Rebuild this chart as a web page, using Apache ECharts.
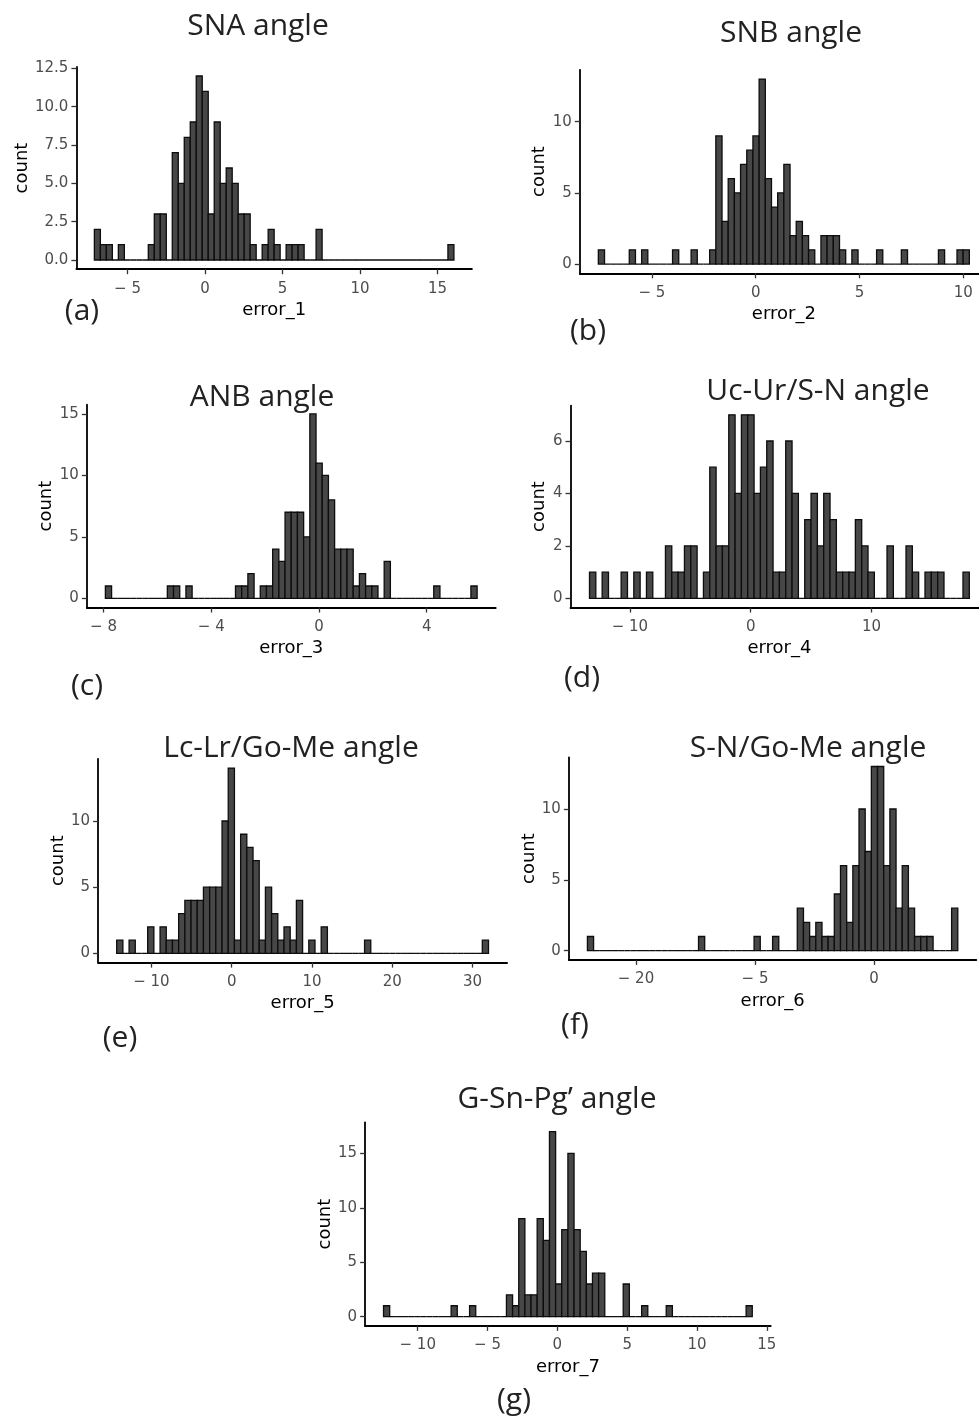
<!DOCTYPE html>
<html><head><meta charset="utf-8">
<script src="https://cdn.jsdelivr.net/npm/echarts@6/dist/echarts.min.js"></script>
<style>html,body{margin:0;padding:0;background:#fff}#c{width:979px;height:1417px}</style>
</head><body><div id="c"></div>
<script>
// ---------------- data ----------------
// each histogram: 60 equal bins, first bin starts at start*, bin width width*
const startA = -7.14, widthA = 0.3867;
const countsA = [2,1,1,0,1,0,0,0,0,1, 3,3,0,7,5,8,9,12,11,3, 9,5,6,5,3,3,1,0,1,2, 1,0,1,1,1,0,0,2,0,0, 0,0,0,0,0,0,0,0,0,0, 0,0,0,0,0,0,0,0,0,1];
const startB = -7.58, widthB = 0.2978;
const countsB = [1,0,0,0,0,1,0,1,0,0, 0,0,1,0,0,1,0,0,1,9, 3,6,5,7,8,9,13,6,4,5, 7,2,3,2,1,0,2,2,2,1, 0,1,0,0,0,1,0,0,0,1, 0,0,0,0,0,1,0,0,1,1];
const startC = -7.93, widthC = 0.23;
const countsC = [1,0,0,0,0,0,0,0,0,0, 1,1,0,1,0,0,0,0,0,0, 0,1,1,2,0,1,1,4,3,7, 7,7,5,15,11,10,8,4,4,4, 1,2,1,1,0,3,0,0,0,0, 0,0,0,1,0,0,0,0,0,1];
const startD = -13.35, widthD = 0.5242;
const countsD = [1,0,1,0,0,1,0,1,0,1, 0,0,2,1,1,2,2,0,1,5, 2,2,7,4,7,7,4,5,6,1, 1,6,4,0,3,4,2,4,3,1, 1,1,3,2,1,0,0,2,0,0, 2,1,0,1,1,1,0,0,0,1];
const startE = -14.33, widthE = 0.7722;
const countsE = [1,0,1,0,0,2,0,2,1,1, 3,4,4,4,5,5,5,10,14,1, 9,8,7,1,5,3,1,2,1,4, 0,1,0,2,0,0,0,0,0,0, 1,0,0,0,0,0,0,0,0,0, 0,0,0,0,0,0,0,0,0,1];
const startF = -12.04, widthF = 0.2593;
const countsF = [1,0,0,0,0,0,0,0,0,0, 0,0,0,0,0,0,0,0,1,0, 0,0,0,0,0,0,0,1,0,0, 1,0,0,0,3,2,1,2,1,1, 4,6,2,6,10,7,13,13,6,10, 3,6,3,1,1,1,0,0,0,3];
const startG = -12.45, widthG = 0.4402;
const countsG = [1,0,0,0,0,0,0,0,0,0, 0,1,0,0,1,0,0,0,0,0, 2,1,9,2,2,9,7,17,3,8, 15,8,6,3,4,4,0,0,0,3, 0,0,1,0,0,0,1,0,0,0, 0,0,0,0,0,0,0,0,0,1];

// tick values and their labels
const xTicksA = [-5,0,5,10,15],   xLabelsA = ['− 5','0','5','10','15'];
const yTicksA = [0,2.5,5,7.5,10,12.5], yLabelsA = ['0.0','2.5','5.0','7.5','10.0','12.5'];
const xTicksB = [-5,0,5,10],      xLabelsB = ['− 5','0','5','10'];
const yTicksB = [0,5,10],         yLabelsB = ['0','5','10'];
const xTicksC = [-8,-4,0,4],      xLabelsC = ['− 8','− 4','0','4'];
const yTicksC = [0,5,10,15],      yLabelsC = ['0','5','10','15'];
const xTicksD = [-10,0,10],       xLabelsD = ['− 10','0','10'];
const yTicksD = [0,2,4,6],        yLabelsD = ['0','2','4','6'];
const xTicksE = [-10,0,10,20,30], xLabelsE = ['− 10','0','10','20','30'];
const yTicksE = [0,5,10],         yLabelsE = ['0','5','10'];
const xTicksF = [-10,-5,0],       xLabelsF = ['− 20','− 5','0'];
const yTicksF = [0,5,10],         yLabelsF = ['0','5','10'];
const xTicksG = [-10,-5,0,5,10,15], xLabelsG = ['− 10','− 5','0','5','10','15'];
const yTicksG = [0,5,10,15],      yLabelsG = ['0','5','10','15'];

const titles = ['SNA angle','SNB angle','ANB angle','Uc-Ur/S-N angle','Lc-Lr/Go-Me angle','S-N/Go-Me angle','G-Sn-Pg’ angle'];
const panelTags = ['(a)','(b)','(c)','(d)','(e)','(f)','(g)'];
const xNames = ['error_1','error_2','error_3','error_4','error_5','error_6','error_7'];

// ---------------- layout ----------------
const panels = [
  {start:startA,w:widthA,counts:countsA,xt:xTicksA,xl:xLabelsA,yt:yTicksA,yl:yLabelsA, grid:[76.4,66.8,395.5,202.4], yGap:44, title:[258,26], tag:[82,311]},
  {start:startB,w:widthB,counts:countsB,xt:xTicksB,xl:xLabelsB,yt:yTicksB,yl:yLabelsB, grid:[579.8,69.8,408.1,203.5], yGap:30, title:[791,33], tag:[588,331]},
  {start:startC,w:widthC,counts:countsC,xt:xTicksC,xl:xLabelsC,yt:yTicksC,yl:yLabelsC, grid:[86.8,404.7,408.9,202.8], yGap:30, title:[262,397], tag:[87,686]},
  {start:startD,w:widthD,counts:countsD,xt:xTicksD,xl:xLabelsD,yt:yTicksD,yl:yLabelsD, grid:[570.5,405.6,417.8,201.9], yGap:22, title:[818,391], tag:[582,678]},
  {start:startE,w:widthE,counts:countsE,xt:xTicksE,xl:xLabelsE,yt:yTicksE,yl:yLabelsE, grid:[98.1,758.8,409,203.8], yGap:30, title:[291,748], tag:[120,1038]},
  {start:startF,w:widthF,counts:countsF,xt:xTicksF,xl:xLabelsF,yt:yTicksF,yl:yLabelsF, grid:[568.9,757.3,407.4,202.6], yGap:30, title:[808,748], tag:[575,1025]},
  {start:startG,w:widthG,counts:countsG,xt:xTicksG,xl:xLabelsG,yt:yTicksG,yl:yLabelsG, grid:[365.1,1122.3,405.6,203.6], yGap:30, title:[557,1099], tag:[514,1400]}
];

const tickFont = 'DejaVu Sans';
const grids = [], xAxes = [], yAxes = [], series = [], graphics = [];

panels.forEach((p, i) => {
  const n = p.counts.length;
  const span = n * p.w;
  const xmin = p.start - 0.05 * span, xmax = p.start + span + 0.05 * span;
  const cmax = Math.max.apply(null, p.counts);
  const ymin = -0.05 * cmax, ymax = cmax * 1.05;
  grids.push({left:p.grid[0], top:p.grid[1], width:p.grid[2], height:p.grid[3], containLabel:false, outerBoundsMode:'none'});
  const xt = p.xt, xl = p.xl, yt = p.yt, yl = p.yl;
  xAxes.push({
    type:'value', gridIndex:i, min:xmin, max:xmax,
    axisLine:{show:true, onZero:false, lineStyle:{color:'#000', width:1.8}},
    axisTick:{show:true, length:5, lineStyle:{color:'#333', width:1.3}, customValues:xt},
    axisLabel:{show:true, customValues:xt, margin:12, color:'#4d4d4d', fontSize:15, fontFamily:tickFont,
      formatter:(v)=>{ const k = xt.findIndex(t=>Math.abs(t-v)<1e-9); return k>=0 ? xl[k] : ''; }},
    splitLine:{show:false},
    name:xNames[i], nameLocation:'middle', nameGap:32,
    nameTextStyle:{color:'#000', fontSize:18, fontFamily:tickFont}
  });
  yAxes.push({
    type:'value', gridIndex:i, min:ymin, max:ymax,
    axisLine:{show:true, onZero:false, lineStyle:{color:'#000', width:1.8}},
    axisTick:{show:true, length:5, lineStyle:{color:'#333', width:1.3}, customValues:yt},
    axisLabel:{show:true, customValues:yt, margin:8, color:'#4d4d4d', fontSize:15, fontFamily:tickFont,
      formatter:(v)=>{ const k = yt.findIndex(t=>Math.abs(t-v)<1e-9); return k>=0 ? yl[k] : ''; }},
    splitLine:{show:false},
    name:'count', nameLocation:'middle', nameGap:p.yGap,
    nameTextStyle:{color:'#000', fontSize:18, fontFamily:tickFont}
  });
  const data = p.counts.map((c, k) => [p.start + k * p.w, p.start + (k + 1) * p.w, c]);
  series.push({
    type:'custom', xAxisIndex:i, yAxisIndex:i, data:data, encode:{x:[0,1], y:2},
    silent:true, animation:false,
    renderItem:(params, api) => {
      const a = api.coord([api.value(0), api.value(2)]);
      const b = api.coord([api.value(1), 0]);
      return {type:'rect', shape:{x:a[0], y:a[1], width:b[0]-a[0], height:b[1]-a[1]},
        style:{fill:'#474747', stroke:'#0d0d0d', lineWidth:1.3}};
    }
  });
  graphics.push({type:'text', x:p.title[0], y:p.title[1],
    style:{text:titles[i], fontSize:30, fontFamily:'Open Sans', fill:'#222', align:'center', verticalAlign:'middle'}});
  graphics.push({type:'text', x:p.tag[0], y:p.tag[1],
    style:{text:panelTags[i], fontSize:30, fontFamily:'Open Sans', fill:'#222', align:'center', verticalAlign:'middle'}});
});

const chart = echarts.init(document.getElementById('c'), null, {renderer:'canvas', width:979, height:1417});
chart.setOption({
  animation:false,
  backgroundColor:'#fff',
  grid:grids, xAxis:xAxes, yAxis:yAxes, series:series, graphic:graphics
});
</script></body></html>
